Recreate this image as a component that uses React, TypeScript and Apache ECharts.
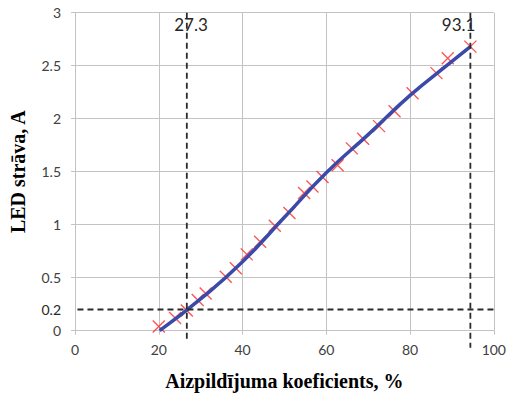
import React, { useEffect, useRef } from "react";
import * as echarts from "echarts";

// Measured points (red crosses)
const pointX = [20.0, 23.9, 26.7, 29.3, 31.2, 36.0, 38.4, 41.0, 44.2, 47.7, 51.2, 54.7, 56.7, 59.1, 62.7, 66.1, 68.8, 72.6, 76.3, 80.6, 86.3, 89.0, 94.4];
const pointY = [0.04, 0.12, 0.19, 0.29, 0.35, 0.51, 0.59, 0.72, 0.84, 0.99, 1.11, 1.3, 1.36, 1.45, 1.56, 1.72, 1.81, 1.93, 2.07, 2.24, 2.43, 2.57, 2.68];

// Fitted curve (blue line)
const fitX = [20.2, 30, 40, 50, 60, 70, 80, 90, 94.4];
const fitY = [0, 0.3, 0.65, 1.07, 1.49, 1.85, 2.22, 2.54, 2.68];

// Reference lines (dashed)
const refLineX = [26.7, 94.4];
const refLineXBottom = [-0.1, -0.16];
const refLineXTop = 3;
const refLabelText = ["27.3", "93.1"];
const refLabelX = [27.7, 91.6];
const refLabelY = 2.889;
const refLineY = 0.2;
const refLineYSpan = [-1.8, 100];

// Axis tick labels
const yLabelValues = [0, 0.2, 0.5, 1, 1.5, 2, 2.5, 3];
const xTickValues = [0, 20, 40, 60, 80, 100];

export default function App() {
  const ref = useRef<HTMLDivElement>(null);
  useEffect(() => {
    if (!ref.current) return;
    const chart = echarts.init(ref.current, undefined, { renderer: "svg" });
    const gray = "#c3c3c3";
    const tickFont = { fontFamily: "Lato", fontSize: 14 };
    const dashStyle = { color: "#2b2b2b", type: [6, 4] as any, width: 1.8 };
    const dashSeries = (data: number[][]) => ({
      type: "line",
      z: 4,
      clip: false,
      silent: true,
      data,
      showSymbol: false,
      symbol: "none",
      lineStyle: dashStyle,
    });
    chart.setOption({
      animation: false,
      backgroundColor: "#ffffff",
      grid: { left: 70.7, right: 13.3, top: 12.7, bottom: 65.3 },
      xAxis: {
        type: "value",
        min: xTickValues[0],
        max: xTickValues[xTickValues.length - 1],
        interval: 20,
        name: "Aizpildījuma koeficients, %",
        nameLocation: "middle",
        nameGap: 40,
        nameTextStyle: { fontFamily: "Liberation Serif", fontWeight: "bold", fontSize: 20, color: "#000" },
        axisLine: { show: true, lineStyle: { color: gray, width: 1 } },
        axisTick: { show: true, length: 4, lineStyle: { color: gray } },
        axisLabel: { ...tickFont, color: "#404040", margin: 12 },
        splitLine: { show: true, lineStyle: { color: gray, width: 1 } },
      },
      yAxis: {
        type: "value",
        min: 0,
        max: 3,
        interval: 0.5,
        name: "LED strāva, A",
        nameLocation: "middle",
        nameGap: 47,
        nameTextStyle: { fontFamily: "Liberation Serif", fontWeight: "bold", fontSize: 20, color: "#000" },
        axisLine: { show: true, lineStyle: { color: gray, width: 1 } },
        axisTick: { show: true, length: 4, lineStyle: { color: gray } },
        axisLabel: {
          ...tickFont,
          margin: 14,
          customValues: yLabelValues,
          color: (v: any) => (Number(v) === refLineY ? "#262626" : "#404040"),
        },
        splitLine: { show: true, lineStyle: { color: gray, width: 1 } },
      },
      series: [
        {
          type: "scatter",
          z: 2,
          data: pointX.map((x, i) => [x, pointY[i]]),
          symbol: "path://M0,0L10,10M10,0L0,10",
          symbolSize: 12,
          itemStyle: { color: "rgba(0,0,0,0)", borderColor: "#ff2b2b", borderWidth: 1.4 },
        },
        {
          type: "line",
          z: 3,
          data: fitX.map((x, i) => [x, fitY[i]]),
          smooth: 0.5,
          showSymbol: false,
          symbol: "none",
          lineStyle: { color: "#3b4aa8", width: 3.5 },
          markPoint: {
            silent: true,
            symbol: "circle",
            symbolSize: 0,
            label: {
              show: true,
              position: "inside",
              fontFamily: "Lato",
              fontSize: 17,
              color: "#262626",
              formatter: (p: any) => p.name,
            },
            data: refLabelText.map((t, i) => ({ name: t, coord: [refLabelX[i], refLabelY] })),
          },
        },
        dashSeries([[refLineX[0], refLineXTop], [refLineX[0], refLineXBottom[0]]]),
        dashSeries([[refLineX[1], refLineXTop], [refLineX[1], refLineXBottom[1]]]),
        dashSeries([[refLineYSpan[0], refLineY], [refLineYSpan[1], refLineY]]),
      ],
    });
    return () => chart.dispose();
  }, []);
  return <div ref={ref} style={{ position: "fixed", left: 0, top: 0, width: 509, height: 396 }} />;
}
